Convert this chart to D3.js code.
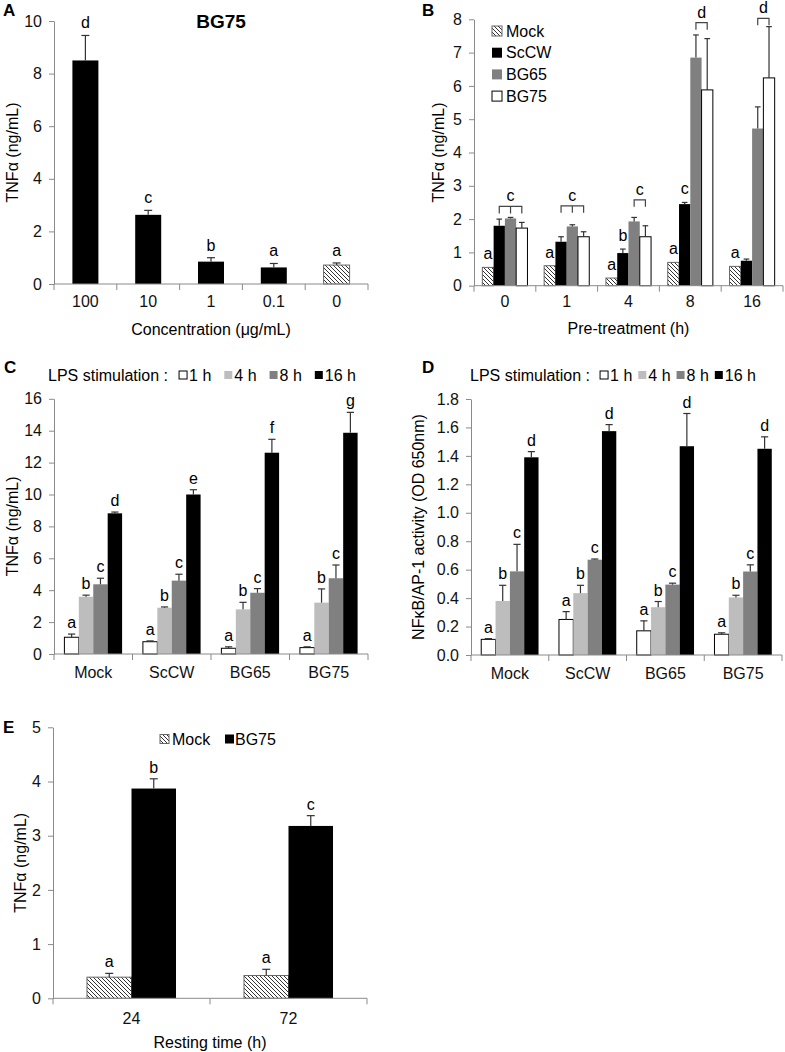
<!DOCTYPE html>
<html>
<head>
<meta charset="utf-8">
<script src="https://cdn.jsdelivr.net/npm/d3@7"></script>
<style>
  body { margin: 0; background: #fff; }
  svg { font-family: "Liberation Sans", Arial, sans-serif; }
</style>
</head>
<body>
<svg id="fig" width="785" height="1052"></svg>
<script>
// Panel A - BG75 concentration
const concLabels = ["100", "10", "1", "0.1", "0"];
const concMeans = [8.5, 2.63, 0.85, 0.63, 0.72];
const concSd = [0.95, 0.17, 0.15, 0.15, 0.08];
const concLetters = ["d", "c", "b", "a", "a"];
const concTicks = [0, 2, 4, 6, 8, 10];

// Panel B - pre-treatment time
const pretreatHours = ["0", "1", "4", "8", "16"];
const pretreatSeries = ["Mock", "ScCW", "BG65", "BG75"];
const pretreatMock = [0.55, 0.6, 0.23, 0.7, 0.58];
const pretreatScCW = [1.8, 1.32, 0.98, 2.45, 0.75];
const pretreatBG65 = [2.02, 1.78, 1.93, 6.85, 4.72];
const pretreatBG75 = [1.73, 1.47, 1.47, 5.88, 6.24];
const pretreatMockSd = [0, 0, 0, 0, 0];
const pretreatScCWSd = [0.2, 0.15, 0.12, 0.05, 0.05];
const pretreatBG65Sd = [0.03, 0.05, 0.12, 0.68, 0.65];
const pretreatBG75Sd = [0.17, 0.15, 0.33, 1.54, 1.54];
const pretreatMockLetters = ["a", "a", "a", "a", "a"];
const pretreatScCWLetters = ["", "", "b", "c", ""];
const pretreatNoLetters = ["", "", "", "", ""];
const pretreatBrackets = [
  { hour: "0", series: ["ScCW", "BG65", "BG75"], letter: "c", level: 2.38 },
  { hour: "1", series: ["ScCW", "BG65", "BG75"], letter: "c", level: 2.4 },
  { hour: "4", series: ["BG65", "BG75"], letter: "c", level: 2.58 },
  { hour: "8", series: ["BG65", "BG75"], letter: "d", level: 7.9 },
  { hour: "16", series: ["BG65", "BG75"], letter: "d", level: 8.03 }
];
const pretreatTicks = [0, 1, 2, 3, 4, 5, 6, 7, 8];

// Panels C and D - LPS stimulation
const lpsGroups = ["Mock", "ScCW", "BG65", "BG75"];
const lpsTimes = ["1 h", "4 h", "8 h", "16 h"];
const tnf1h = [1.05, 0.77, 0.36, 0.4];
const tnf4h = [3.59, 2.9, 2.8, 3.22];
const tnf8h = [4.37, 4.6, 3.84, 4.75];
const tnf16h = [8.82, 10.0, 12.62, 13.87];
const tnf1hSd = [0.2, 0.05, 0.09, 0.05];
const tnf4hSd = [0.1, 0.05, 0.44, 0.86];
const tnf8hSd = [0.38, 0.4, 0.26, 0.83];
const tnf16hSd = [0.08, 0.3, 0.84, 1.28];
const tnfLetters1h = ["a", "a", "a", "a"];
const tnfLetters4h = ["b", "b", "b", "b"];
const tnfLetters8h = ["c", "c", "c", "c"];
const tnfLetters16h = ["d", "e", "f", "g"];
const tnfTicks = [0, 2, 4, 6, 8, 10, 12, 14, 16];

const nfkb1h = [0.11, 0.25, 0.17, 0.146];
const nfkb4h = [0.38, 0.435, 0.336, 0.405];
const nfkb8h = [0.588, 0.67, 0.495, 0.587];
const nfkb16h = [1.39, 1.574, 1.468, 1.45];
const nfkb1hSd = [0.005, 0.055, 0.07, 0.01];
const nfkb4hSd = [0.11, 0.055, 0.04, 0.015];
const nfkb8hSd = [0.19, 0.005, 0.01, 0.047];
const nfkb16hSd = [0.04, 0.046, 0.23, 0.084];
const nfkbLetters1h = ["a", "a", "a", "a"];
const nfkbLetters4h = ["b", "b", "b", "b"];
const nfkbLetters8h = ["c", "c", "c", "c"];
const nfkbLetters16h = ["d", "d", "d", "d"];
const nfkbTicks = [0, 0.2, 0.4, 0.6, 0.8, 1.0, 1.2, 1.4, 1.6, 1.8];

// Panel E - resting time
const restHours = ["24", "72"];
const restSeries = ["Mock", "BG75"];
const restMock = [0.39, 0.42];
const restBG75 = [3.87, 3.18];
const restMockSd = [0.07, 0.115];
const restBG75Sd = [0.18, 0.19];
const restMockLetters = ["a", "a"];
const restBG75Letters = ["b", "c"];
const restTicks = [0, 1, 2, 3, 4, 5];

const svg = d3.select("#fig");
const defs = svg.append("defs");
const hatch = defs.append("pattern")
  .attr("id", "hatch")
  .attr("patternUnits", "userSpaceOnUse")
  .attr("width", 4)
  .attr("height", 4);
hatch.append("rect").attr("width", 4).attr("height", 4).attr("fill", "#fff");
hatch.append("path")
  .attr("d", "M-1,-1L5,5M3,-1L5,1M-1,3L1,5")
  .attr("stroke", "#333")
  .attr("stroke-width", 1);

const axisGray = "#8a8a8a";
const seriesFill = {
  Mock: "url(#hatch)", ScCW: "#000", BG65: "#808080", BG75: "#fff",
  "1 h": "#fff", "4 h": "#bdbdbd", "8 h": "#808080", "16 h": "#000"
};
const strokeFor = f => f === "#fff" ? "#000" : (f === "url(#hatch)" ? "#666" : "none");

function toRows(cats, names, values, sds, letters) {
  return names.flatMap((s, j) => cats.map((c, i) => ({
    cat: c, key: s, value: values[j][i], sd: sds[j][i], letter: letters[j][i]
  })));
}

function drawPanel(p) {
  const g = svg.append("g");
  const x0 = d3.scaleBand().domain(p.cats).range([p.left, p.right]);
  const n = p.series.length;
  const x1 = d3.scaleBand().domain(p.series)
    .range([0, x0.bandwidth()])
    .paddingInner(0)
    .paddingOuter((n / p.groupFrac - n) / 2);
  const y = d3.scaleLinear().domain([0, p.yMax]).range([p.bottom, p.top]);
  const cx = d => x0(d.cat) + x1(d.key) + x1.bandwidth() / 2;

  g.append("g").selectAll("rect").data(p.rows).join("rect")
    .attr("x", d => x0(d.cat) + x1(d.key))
    .attr("y", d => y(d.value))
    .attr("width", x1.bandwidth())
    .attr("height", d => y(0) - y(d.value))
    .attr("fill", d => p.fill(d))
    .attr("stroke", d => strokeFor(p.fill(d)))
    .attr("stroke-width", 1);

  const cap = Math.min(8, x1.bandwidth() * 0.5);
  const eb = g.append("g").attr("stroke", "#333").attr("stroke-width", 1.2)
    .selectAll("g").data(p.rows.filter(d => d.sd > 0)).join("g");
  eb.append("line")
    .attr("x1", cx).attr("x2", cx)
    .attr("y1", d => y(d.value)).attr("y2", d => y(d.value + d.sd));
  eb.append("line")
    .attr("x1", d => cx(d) - cap / 2).attr("x2", d => cx(d) + cap / 2)
    .attr("y1", d => y(d.value + d.sd)).attr("y2", d => y(d.value + d.sd));

  g.append("g").selectAll("text").data(p.rows.filter(d => d.letter)).join("text")
    .attr("x", cx)
    .attr("y", d => y(d.value + d.sd) - p.letterGap)
    .attr("text-anchor", "middle")
    .attr("font-size", 16)
    .text(d => d.letter);

  // y axis
  const yAxis = g.append("g")
    .attr("transform", `translate(${p.left},0)`)
    .call(d3.axisLeft(y).tickValues(p.ticks).tickFormat(p.fmt)
      .tickSize(5).tickSizeOuter(0).tickPadding(7));
  yAxis.attr("font-family", null).attr("font-size", 16);
  yAxis.select(".domain").attr("stroke", axisGray);
  yAxis.selectAll(".tick line").attr("stroke", axisGray);
  yAxis.selectAll(".tick text").attr("fill", "#111");

  // x axis: labels centred in bands, ticks on band edges
  const xAxis = g.append("g")
    .attr("transform", `translate(0,${p.bottom})`)
    .call(d3.axisBottom(x0).tickSize(0).tickPadding(p.xPad));
  xAxis.attr("font-family", null).attr("font-size", 16);
  xAxis.select(".domain").remove();
  xAxis.selectAll(".tick text").attr("fill", "#111");
  g.append("line")
    .attr("x1", p.left).attr("x2", p.right)
    .attr("y1", p.bottom).attr("y2", p.bottom)
    .attr("stroke", axisGray);
  const edges = p.cats.map(c => x0(c)).concat([p.right]);
  g.append("g").selectAll("line").data(edges).join("line")
    .attr("x1", d => d).attr("x2", d => d)
    .attr("y1", p.bottom).attr("y2", p.bottom + 6)
    .attr("stroke", axisGray);

  g.append("text")
    .attr("transform", `translate(${p.yLabelX},${(p.top + p.bottom) / 2}) rotate(-90)`)
    .attr("text-anchor", "middle")
    .attr("dy", "0.35em")
    .attr("font-size", 16)
    .text(p.yLabel);

  if (p.xTitle) {
    g.append("text")
      .attr("x", (p.left + p.right) / 2)
      .attr("y", p.xTitleY)
      .attr("text-anchor", "middle")
      .attr("font-size", 16)
      .text(p.xTitle);
  }

  g.append("text")
    .attr("x", p.tag[0]).attr("y", p.tag[1])
    .attr("font-size", 17).attr("font-weight", "bold")
    .text(p.tagText);

  return { g, x0, x1, y };
}

function swatch(g, x, y, size, fill) {
  g.append("rect")
    .attr("x", x).attr("y", y - size / 2)
    .attr("width", size).attr("height", size)
    .attr("fill", fill)
    .attr("stroke", strokeFor(fill))
    .attr("stroke-width", 1);
}

function legendRow(g, x, y, prefix, names, size, gapAfterPrefix, gapItem) {
  let cur = x;
  if (prefix) {
    const t = g.append("text").attr("x", cur).attr("y", y).attr("dy", "0.35em")
      .attr("font-size", 16).text(prefix);
    cur += t.node().getComputedTextLength() + gapAfterPrefix;
  }
  names.forEach(name => {
    swatch(g, cur, y, size, seriesFill[name]);
    cur += size + 2;
    const t = g.append("text").attr("x", cur).attr("y", y).attr("dy", "0.35em")
      .attr("font-size", 16).text(name);
    cur += t.node().getComputedTextLength() + gapItem;
  });
}

// A
const panelA = drawPanel({
  cats: concLabels, series: ["BG75"],
  rows: concLabels.map((c, i) => ({
    cat: c, key: "BG75", value: concMeans[i], sd: concSd[i], letter: concLetters[i]
  })),
  left: 54, right: 368, top: 21, bottom: 284, yMax: 10,
  ticks: concTicks, fmt: d3.format("d"), groupFrac: 0.414,
  fill: d => d.cat === "0" ? "url(#hatch)" : "#000",
  letterGap: 7, xPad: 12,
  yLabel: "TNFα (ng/mL)", yLabelX: 12,
  xTitle: "Concentration (μg/mL)", xTitleY: 335,
  tag: [3, 16], tagText: "A"
});
panelA.g.append("text")
  .attr("x", 221).attr("y", 28)
  .attr("text-anchor", "middle")
  .attr("font-size", 19).attr("font-weight", "bold")
  .text("BG75");

// B
const panelB = drawPanel({
  cats: pretreatHours, series: pretreatSeries,
  rows: toRows(pretreatHours, pretreatSeries,
    [pretreatMock, pretreatScCW, pretreatBG65, pretreatBG75],
    [pretreatMockSd, pretreatScCWSd, pretreatBG65Sd, pretreatBG75Sd],
    [pretreatMockLetters, pretreatScCWLetters, pretreatNoLetters, pretreatNoLetters]),
  left: 474, right: 783, top: 19.3, bottom: 285.7, yMax: 8,
  ticks: pretreatTicks, fmt: d3.format("d"), groupFrac: 0.73,
  fill: d => seriesFill[d.key],
  letterGap: 8, xPad: 10,
  yLabel: "TNFα (ng/mL)", yLabelX: 438,
  xTitle: "Pre-treatment (h)", xTitleY: 334,
  tag: [422, 16], tagText: "B"
});
const bx = (h, s) => panelB.x0(h) + panelB.x1(s) + panelB.x1.bandwidth() / 2;
const br = panelB.g.append("g").selectAll("g").data(pretreatBrackets).join("g");
br.append("path")
  .attr("fill", "none").attr("stroke", "#444").attr("stroke-width", 1.2)
  .attr("d", b => {
    const yy = panelB.y(b.level);
    const xs = b.series.map(s => bx(b.hour, s));
    let d = `M${xs[0]},${yy + 7}V${yy}H${xs[xs.length - 1]}V${yy + 7}`;
    if (xs.length > 2) d += `M${xs[1]},${yy}V${yy + 7}`;
    return d;
  });
br.append("text")
  .attr("x", b => (bx(b.hour, b.series[0]) + bx(b.hour, b.series[b.series.length - 1])) / 2)
  .attr("y", b => panelB.y(b.level) - 5)
  .attr("text-anchor", "middle").attr("font-size", 16)
  .text(b => b.letter);
const legB = panelB.g.append("g");
pretreatSeries.forEach((s, i) => {
  const yy = 31 + i * 21.7;
  swatch(legB, 492, yy, 10, seriesFill[s]);
  legB.append("text").attr("x", 506).attr("y", yy).attr("dy", "0.35em")
    .attr("font-size", 16).text(s);
});

// C
const panelC = drawPanel({
  cats: lpsGroups, series: lpsTimes,
  rows: toRows(lpsGroups, lpsTimes,
    [tnf1h, tnf4h, tnf8h, tnf16h],
    [tnf1hSd, tnf4hSd, tnf8hSd, tnf16hSd],
    [tnfLetters1h, tnfLetters4h, tnfLetters8h, tnfLetters16h]),
  left: 54, right: 368, top: 398.8, bottom: 654, yMax: 16,
  ticks: tnfTicks, fmt: d3.format("d"), groupFrac: 0.735,
  fill: d => seriesFill[d.key],
  letterGap: 6, xPad: 13,
  yLabel: "TNFα (ng/mL)", yLabelX: 12,
  tag: [4, 373], tagText: "C"
});
legendRow(panelC.g, 48, 375, "LPS stimulation :", lpsTimes, 8, 11, 13);

// D
const panelD = drawPanel({
  cats: lpsGroups, series: lpsTimes,
  rows: toRows(lpsGroups, lpsTimes,
    [nfkb1h, nfkb4h, nfkb8h, nfkb16h],
    [nfkb1hSd, nfkb4hSd, nfkb8hSd, nfkb16hSd],
    [nfkbLetters1h, nfkbLetters4h, nfkbLetters8h, nfkbLetters16h]),
  left: 471, right: 782, top: 399, bottom: 655, yMax: 1.8,
  ticks: nfkbTicks, fmt: d3.format(".1f"), groupFrac: 0.737,
  fill: d => seriesFill[d.key],
  letterGap: 6, xPad: 13,
  yLabel: "NFκB/AP-1 activity (OD 650nm)", yLabelX: 418,
  tag: [422, 373], tagText: "D"
});
legendRow(panelD.g, 470, 375, "LPS stimulation :", lpsTimes, 8, 10, 6);

// E
const panelE = drawPanel({
  cats: restHours, series: restSeries,
  rows: toRows(restHours, restSeries,
    [restMock, restBG75],
    [restMockSd, restBG75Sd],
    [restMockLetters, restBG75Letters]),
  left: 53, right: 367, top: 727.3, bottom: 998.3, yMax: 5,
  ticks: restTicks, fmt: d3.format("d"), groupFrac: 0.567,
  fill: d => d.key === "Mock" ? "url(#hatch)" : "#000",
  letterGap: 6, xPad: 14,
  yLabel: "TNFα (ng/mL)", yLabelX: 20,
  xTitle: "Resting time (h)", xTitleY: 1048,
  tag: [3, 733], tagText: "E"
});
const legE = panelE.g.append("g");
legE.append("rect").attr("x", 160).attr("y", 734.5).attr("width", 9).attr("height", 9)
  .attr("fill", "url(#hatch)").attr("stroke", "#666");
legE.append("text").attr("x", 172).attr("y", 739).attr("dy", "0.35em")
  .attr("font-size", 16).text("Mock");
legE.append("rect").attr("x", 225).attr("y", 734.5).attr("width", 9).attr("height", 9)
  .attr("fill", "#000");
legE.append("text").attr("x", 235).attr("y", 739).attr("dy", "0.35em")
  .attr("font-size", 16).text("BG75");
</script>
</body>
</html>
